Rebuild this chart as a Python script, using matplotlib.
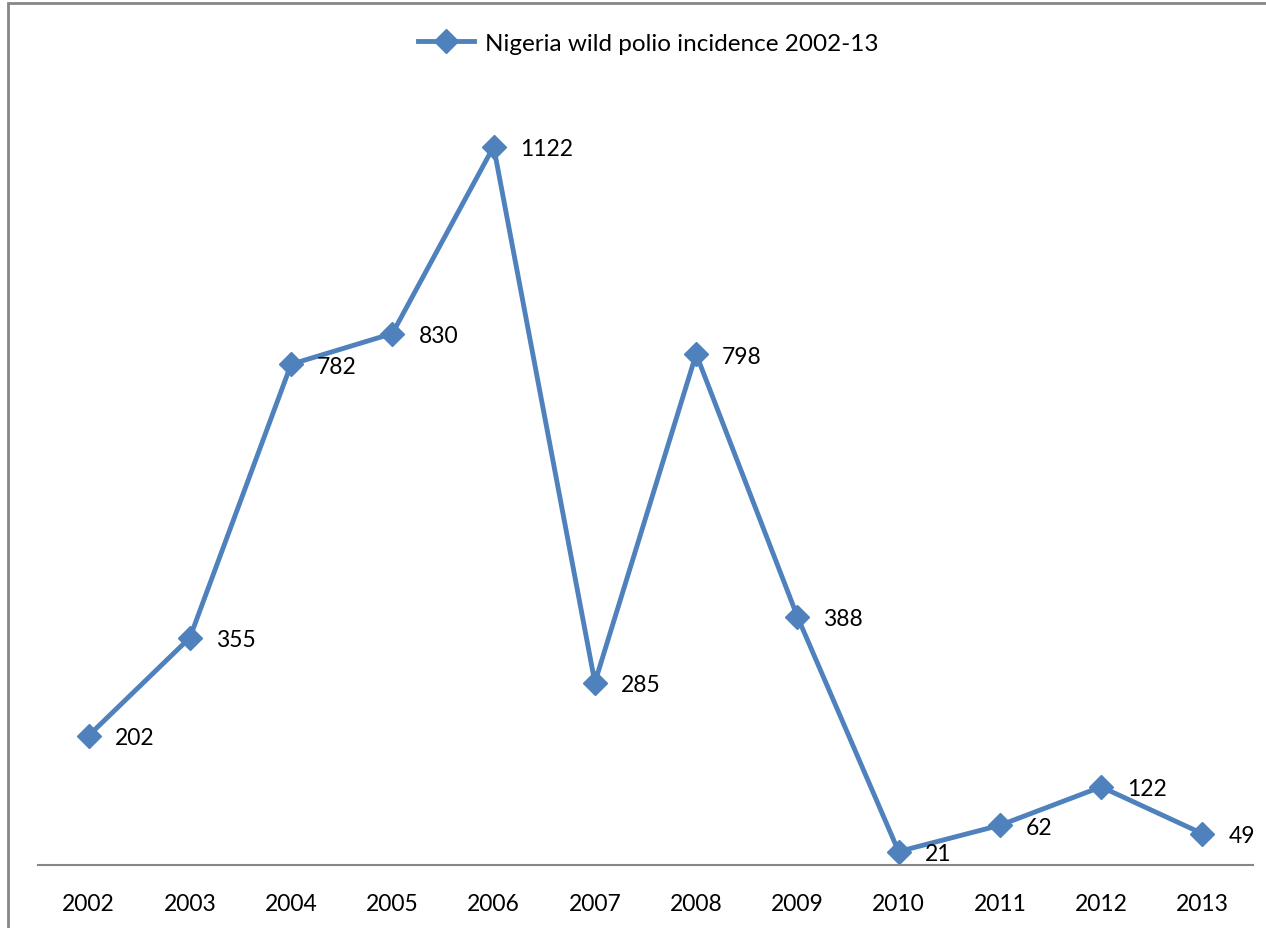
import matplotlib
matplotlib.use("Agg")
import matplotlib.pyplot as plt
from matplotlib.patches import Rectangle

years = ["2002", "2003", "2004", "2005", "2006", "2007", "2008", "2009", "2010", "2011", "2012", "2013"]
cases = [202, 355, 782, 830, 1122, 285, 798, 388, 21, 62, 122, 49]
series_name = "Nigeria wild polio incidence 2002-13"

plt.rcParams['font.family'] = ['Lato', 'DejaVu Sans']
W, H = 1266, 929
fig = plt.figure(figsize=(W / 100, H / 100), dpi=100)
ax = fig.add_axes([38 / W, (H - 866) / H, 1215 / W, (866 - 97.6) / H])

x = list(range(len(years)))
color = "#4F81BD"
ax.plot(x, cases, color=color, lw=3.5, marker="D", markersize=12.5,
        markeredgecolor=color, markerfacecolor=color, label=series_name, clip_on=False)
for xi, v in zip(x, cases):
    ax.annotate(str(v), (xi, v), xytext=(26, -2), textcoords="offset pixels",
                ha="left", va="center", fontsize=16.5, color="black")

ax.set_xlim(-0.5, len(years) - 0.5)
ax.set_ylim(0, 1200)
ax.set_xticks(x)
ax.set_xticklabels(years, fontsize=16.5)
ax.tick_params(axis="x", length=0, pad=20)
ax.set_yticks([])
for s in ["top", "right", "left"]:
    ax.spines[s].set_visible(False)
ax.spines["bottom"].set_color("#868686")
ax.spines["bottom"].set_linewidth(1.5)

fig.legend(loc="center", bbox_to_anchor=(648 / W, 1 - 44 / H), frameon=False,
           fontsize=17.5, handlelength=2.3, handletextpad=0.45)

fig.add_artist(Rectangle((8 / W, -0.05), 1.2, 1 - 4 / H + 0.05, transform=fig.transFigure,
                         fill=False, edgecolor="#878787", lw=2))

fig.savefig("out.png", dpi=100)
